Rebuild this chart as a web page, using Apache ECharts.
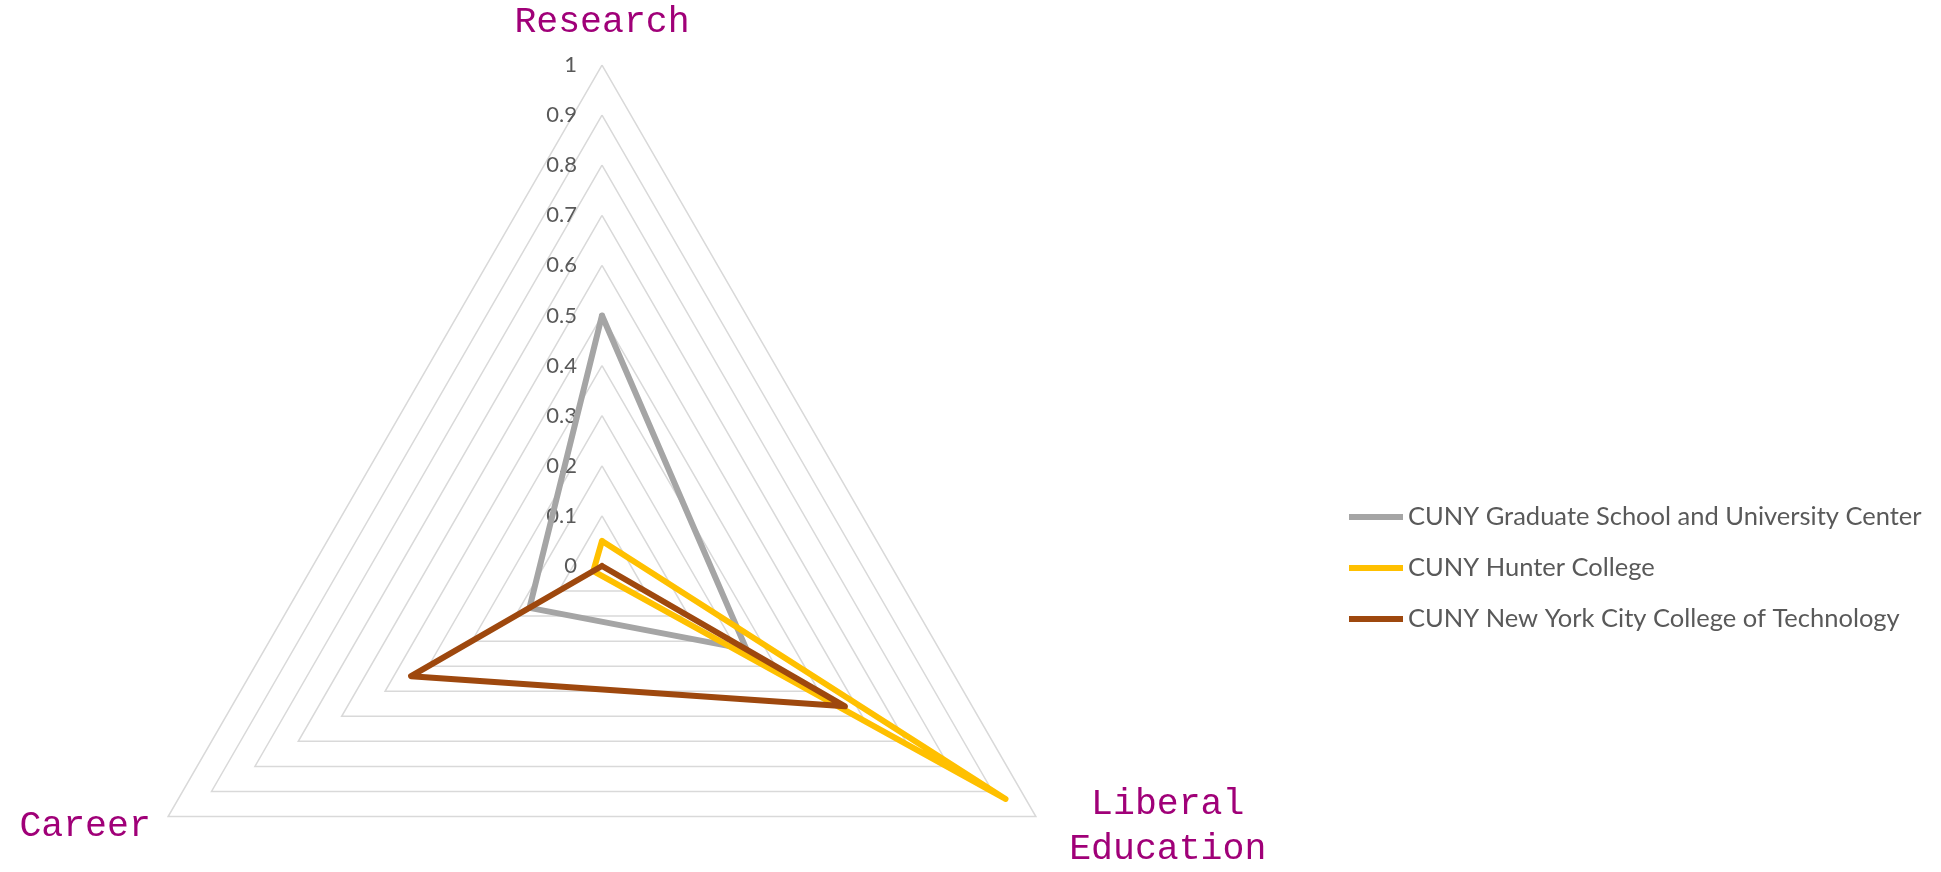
<!DOCTYPE html>
<html>
<head>
<meta charset="utf-8">
<script src="https://cdn.jsdelivr.net/npm/echarts@6/dist/echarts.min.js"></script>
<style>
  html, body { margin: 0; padding: 0; background: #fff; }
  #chart { width: 1941px; height: 872px; }
</style>
</head>
<body>
<div id="chart"></div>
<script>
// axes go counter-clockwise from the top in echarts radar
const indicatorNames = ['Research', 'Career', 'Liberal\nEducation'];
const seriesNames = [
    'CUNY Graduate School and University Center',
    'CUNY Hunter College',
    'CUNY New York City College of Technology'
];
const gradCenter = [0.5, 0.167, 0.333];
const hunter = [0.05, 0.02, 0.93];
const cityTech = [0, 0.44, 0.56];
const colors = ['#A5A5A5', '#FFC000', '#9E480E'];

const chart = echarts.init(document.getElementById('chart'));

const indicators = indicatorNames.map((name, i) => {
    const ind = { name: name, min: 0, max: 1 };
    if (i === 0) {
        ind.axisLabel = {
            show: true,
            color: '#595959',
            fontFamily: 'Lato',
            fontSize: 22,
            margin: 25
        };
    }
    return ind;
});

const values = [gradCenter, hunter, cityTech];

const nameFont = {
    color: '#A00078',
    fontFamily: 'Liberation Mono',
    fontSize: 36.5,
    lineHeight: 45
};

chart.setOption({
    animation: false,
    legend: {
        orient: 'vertical',
        left: 1344,
        top: 497,
        itemGap: 21,
        itemWidth: 54,
        itemHeight: 6,
        icon: 'rect',
        textStyle: {
            color: '#595959',
            fontFamily: 'Lato',
            fontSize: 25.5,
            lineHeight: 30
        },
        data: seriesNames
    },
    radar: {
        center: [602, 566],
        radius: 501,
        shape: 'polygon',
        splitNumber: 10,
        axisName: Object.assign({
            formatter: function (name) {
                if (name.indexOf('\n') < 0) return name;
                // two-line name: centre the lines, push a bit off the corner
                return name.split('\n').map(s => '{c|' + s + '}').join('\n');
            },
            rich: {
                c: Object.assign({ align: 'center', padding: [0, 0, 0, 16] }, nameFont)
            }
        }, nameFont),
        nameGap: 20,
        axisLine: { show: false },
        axisTick: { show: false },
        axisLabel: { show: false },
        splitArea: { show: false },
        splitLine: {
            lineStyle: { color: '#D9D9D9', width: 1.5 }
        },
        indicator: indicators
    },
    series: [{
        type: 'radar',
        symbol: 'none',
        data: seriesNames.map((name, i) => ({
            name: name,
            value: values[i],
            lineStyle: { color: colors[i], width: 6, join: 'round', cap: 'round' },
            itemStyle: { color: colors[i] }
        }))
    }]
});
</script>
</body>
</html>
